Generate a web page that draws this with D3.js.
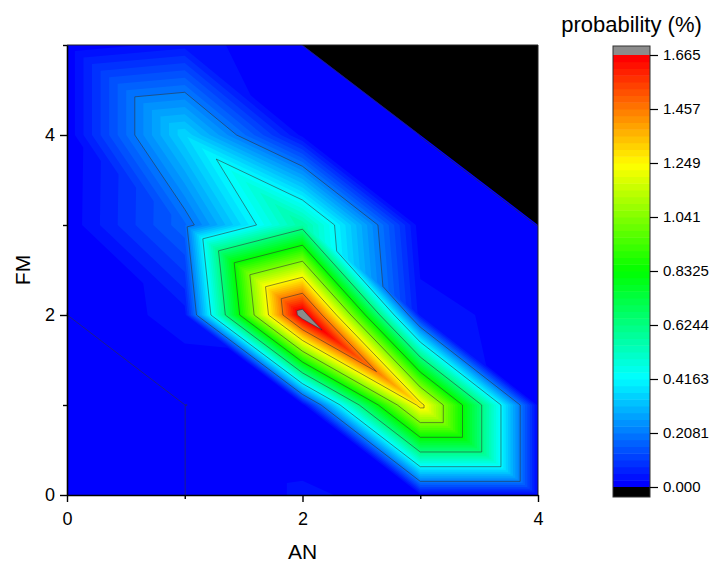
<!DOCTYPE html>
<html>
<head>
<meta charset="utf-8">
<script src="https://cdn.jsdelivr.net/npm/d3@7"></script>
<style>
  body { margin: 0; background: #fff; }
  svg { display: block; }
  text { font-family: "Liberation Sans", Arial, sans-serif; fill: #000; }
</style>
</head>
<body>
<svg id="chart" width="709" height="564"></svg>
<script>
// Grid axes
const anValues = [0, 1, 2, 3, 4];
const fmValues = [0, 1, 2, 3, 4, 5];

// probability (%) for each FM row, one value per AN; null = combination not possible
const probFM0 = [0.000, 0.000, 0.030, 0.015, 0.015];
const probFM1 = [0.000, 0.000, 0.005, 1.290, 0.015];
const probFM2 = [0.000, 0.038, 1.740, 0.040, 0.010];
const probFM3 = [0.004, 0.176, 0.570, 0.005, 0.000];
const probFM4 = [0.002, 0.360, 0.015, 0.000, null];
const probFM5 = [0.002, 0.040, 0.000, null, null];
const probRows = [probFM0, probFM1, probFM2, probFM3, probFM4, probFM5];

// Colour scale annotation
const colorTickLabels = ["0.000", "0.2081", "0.4163", "0.6244", "0.8325", "1.041", "1.249", "1.457", "1.665"];
const colorMax = 1.665;
const majorCount = 8;      // labelled steps on the colour bar
const bandsPerMajor = 8;   // colour levels between labels

const xTickLabels = [0, 2, 4];
const xMinorTicks = [1, 3];
const yTickLabels = [0, 2, 4];
const yMinorTicks = [1, 3, 5];

const svg = d3.select("#chart");
const plot = { left: 67, right: 538, top: 45, bottom: 495 };
const x = d3.scaleLinear().domain([0, 4]).range([plot.left, plot.right]);
const y = d3.scaleLinear().domain([0, 5]).range([plot.bottom, plot.top]);

const nBands = majorCount * bandsPerMajor;
const bandStep = colorMax / nBands;
const majorStep = colorMax / majorCount;
const palette = d3.scaleLinear()
  .domain([0, 0.25, 0.5, 0.75, 1])
  .range(["#0000ff", "#00ffff", "#00ff00", "#ffff00", "#ff0000"]);
const bandColor = k => k >= nBands ? "#8c8c8c" : palette(k / (nBands - 1));

// Triangulate the grid (anti-diagonal split in every cell)
const pt = (i, j) => ({ an: anValues[i], fm: fmValues[j], z: probRows[j][i] });
const triangles = [];
for (let j = 0; j < fmValues.length - 1; j++) {
  for (let i = 0; i < anValues.length - 1; i++) {
    const p00 = pt(i, j), p10 = pt(i + 1, j), p01 = pt(i, j + 1), p11 = pt(i + 1, j + 1);
    [[p00, p10, p01], [p10, p11, p01]].forEach(t => {
      if (t.every(p => p.z !== null)) triangles.push(t);
    });
  }
}

// Part of a polygon where z >= L
function clipAbove(poly, L) {
  const out = [];
  for (let k = 0; k < poly.length; k++) {
    const a = poly[k], b = poly[(k + 1) % poly.length];
    const ina = a.z >= L, inb = b.z >= L;
    if (ina) out.push(a);
    if (ina !== inb) {
      const t = (L - a.z) / (b.z - a.z);
      out.push({ an: a.an + t * (b.an - a.an), fm: a.fm + t * (b.fm - a.fm), z: L });
    }
  }
  return out.length >= 3 ? out : null;
}

// Iso-line segment of level L inside a triangle
function isoSegment(tri, L) {
  const pts = [];
  for (let k = 0; k < 3; k++) {
    const a = tri[k], b = tri[(k + 1) % 3];
    if ((a.z < L) !== (b.z < L)) {
      const t = (L - a.z) / (b.z - a.z);
      pts.push([a.an + t * (b.an - a.an), a.fm + t * (b.fm - a.fm)]);
    }
  }
  return pts.length === 2 ? pts : null;
}

const polyLine = d3.line().x(p => x(p.an)).y(p => y(p.fm)).curve(d3.curveLinearClosed);

const gPlot = svg.append("g");
// Area outside the valid data (below the colour range) is black
gPlot.append("rect")
  .attr("x", plot.left).attr("y", plot.top)
  .attr("width", plot.right - plot.left).attr("height", plot.bottom - plot.top)
  .attr("fill", "#000");

// Filled levels, painted from lowest to highest
for (let k = 0; k <= nBands; k++) {
  const L = k === 0 ? -Infinity : k * bandStep;
  let d = "";
  triangles.forEach(tri => {
    const poly = k === 0 ? tri : clipAbove(tri, L);
    if (poly) d += polyLine(poly);
  });
  if (d) gPlot.append("path").attr("d", d).attr("fill", bandColor(k));
}

// Contour lines at the labelled levels
const lineLevels = d3.range(0, majorCount + 1).map(k => k === 0 ? 1e-4 : k * majorStep);
const segPath = d3.path();
lineLevels.forEach(L => {
  triangles.forEach(tri => {
    const s = isoSegment(tri, L);
    if (s) {
      segPath.moveTo(x(s[0][0]), y(s[0][1]));
      segPath.lineTo(x(s[1][0]), y(s[1][1]));
    }
  });
});
gPlot.append("path").attr("d", segPath.toString())
  .attr("fill", "none").attr("stroke", "#333").attr("stroke-opacity", 0.7)
  .attr("stroke-width", 0.8);

// Frame on the top and right
svg.append("path")
  .attr("d", `M${plot.left},${plot.top}H${plot.right}V${plot.bottom}`)
  .attr("fill", "none").attr("stroke", "#222").attr("stroke-width", 1);

// Axes
function styleAxis(g) {
  g.select(".domain").attr("stroke", "#000").attr("stroke-width", 1.6);
  g.selectAll(".tick line").attr("stroke", "#000").attr("stroke-width", 1.4);
}
const xAxis = svg.append("g").attr("transform", `translate(0,${plot.bottom})`)
  .call(d3.axisBottom(x).tickValues(xTickLabels).tickFormat(d3.format("d"))
    .tickSize(7).tickSizeOuter(0).tickPadding(10));
styleAxis(xAxis);
xAxis.selectAll(".tick text").attr("font-size", 18).attr("font-family", "Liberation Sans, Arial, sans-serif");
const xMinor = svg.append("g").attr("transform", `translate(0,${plot.bottom})`)
  .call(d3.axisBottom(x).tickValues(xMinorTicks).tickFormat("").tickSize(4).tickSizeOuter(0));
xMinor.select(".domain").remove();
xMinor.selectAll(".tick line").attr("stroke", "#000").attr("stroke-width", 1.4);

const yAxis = svg.append("g").attr("transform", `translate(${plot.left},0)`)
  .call(d3.axisLeft(y).tickValues(yTickLabels).tickFormat(d3.format("d"))
    .tickSize(7).tickSizeOuter(0).tickPadding(5));
styleAxis(yAxis);
yAxis.selectAll(".tick text").attr("font-size", 18).attr("font-family", "Liberation Sans, Arial, sans-serif");
const yMinor = svg.append("g").attr("transform", `translate(${plot.left},0)`)
  .call(d3.axisLeft(y).tickValues(yMinorTicks).tickFormat("").tickSize(4).tickSizeOuter(0));
yMinor.select(".domain").remove();
yMinor.selectAll(".tick line").attr("stroke", "#000").attr("stroke-width", 1.4);

svg.append("text").attr("x", (plot.left + plot.right) / 2).attr("y", 559)
  .attr("text-anchor", "middle").attr("font-size", 21).text("AN");
svg.append("text").attr("transform", `translate(30,${(plot.top + plot.bottom) / 2}) rotate(-90)`)
  .attr("text-anchor", "middle").attr("font-size", 21).text("FM");

// Colour bar
const bar = { left: 613, right: 650, top: 55, bottom: 487, cap: 9 };
const yBar = d3.scaleLinear().domain([0, colorMax]).range([bar.bottom, bar.top]);
const gBar = svg.append("g");
gBar.selectAll("rect.band").data(d3.range(nBands)).join("rect")
  .attr("class", "band")
  .attr("x", bar.left).attr("width", bar.right - bar.left)
  .attr("y", k => yBar((k + 1) * bandStep))
  .attr("height", k => yBar(k * bandStep) - yBar((k + 1) * bandStep) + 0.5)
  .attr("fill", k => bandColor(k));
gBar.append("rect").attr("x", bar.left).attr("width", bar.right - bar.left)
  .attr("y", bar.top - bar.cap).attr("height", bar.cap).attr("fill", bandColor(nBands));
gBar.append("rect").attr("x", bar.left).attr("width", bar.right - bar.left)
  .attr("y", bar.bottom).attr("height", bar.cap + 1).attr("fill", "#000");
gBar.append("rect").attr("x", bar.left).attr("y", bar.top - bar.cap)
  .attr("width", bar.right - bar.left).attr("height", bar.bottom - bar.top + 2 * bar.cap + 1)
  .attr("fill", "none").attr("stroke", "#333").attr("stroke-width", 1);

const barAxis = svg.append("g").attr("transform", `translate(${bar.right},0)`)
  .call(d3.axisRight(yBar).tickValues(d3.range(0, majorCount + 1).map(k => k * majorStep))
    .tickFormat((d, i) => colorTickLabels[i]).tickSize(8).tickSizeOuter(0).tickPadding(5));
barAxis.select(".domain").remove();
barAxis.selectAll(".tick line").attr("stroke", "#000").attr("stroke-width", 1.2);
barAxis.selectAll(".tick text").attr("font-size", 15).attr("font-family", "Liberation Sans, Arial, sans-serif");

svg.append("text").attr("x", (bar.left + bar.right) / 2).attr("y", 32)
  .attr("text-anchor", "middle").attr("font-size", 22).text("probability (%)");
</script>
</body>
</html>
